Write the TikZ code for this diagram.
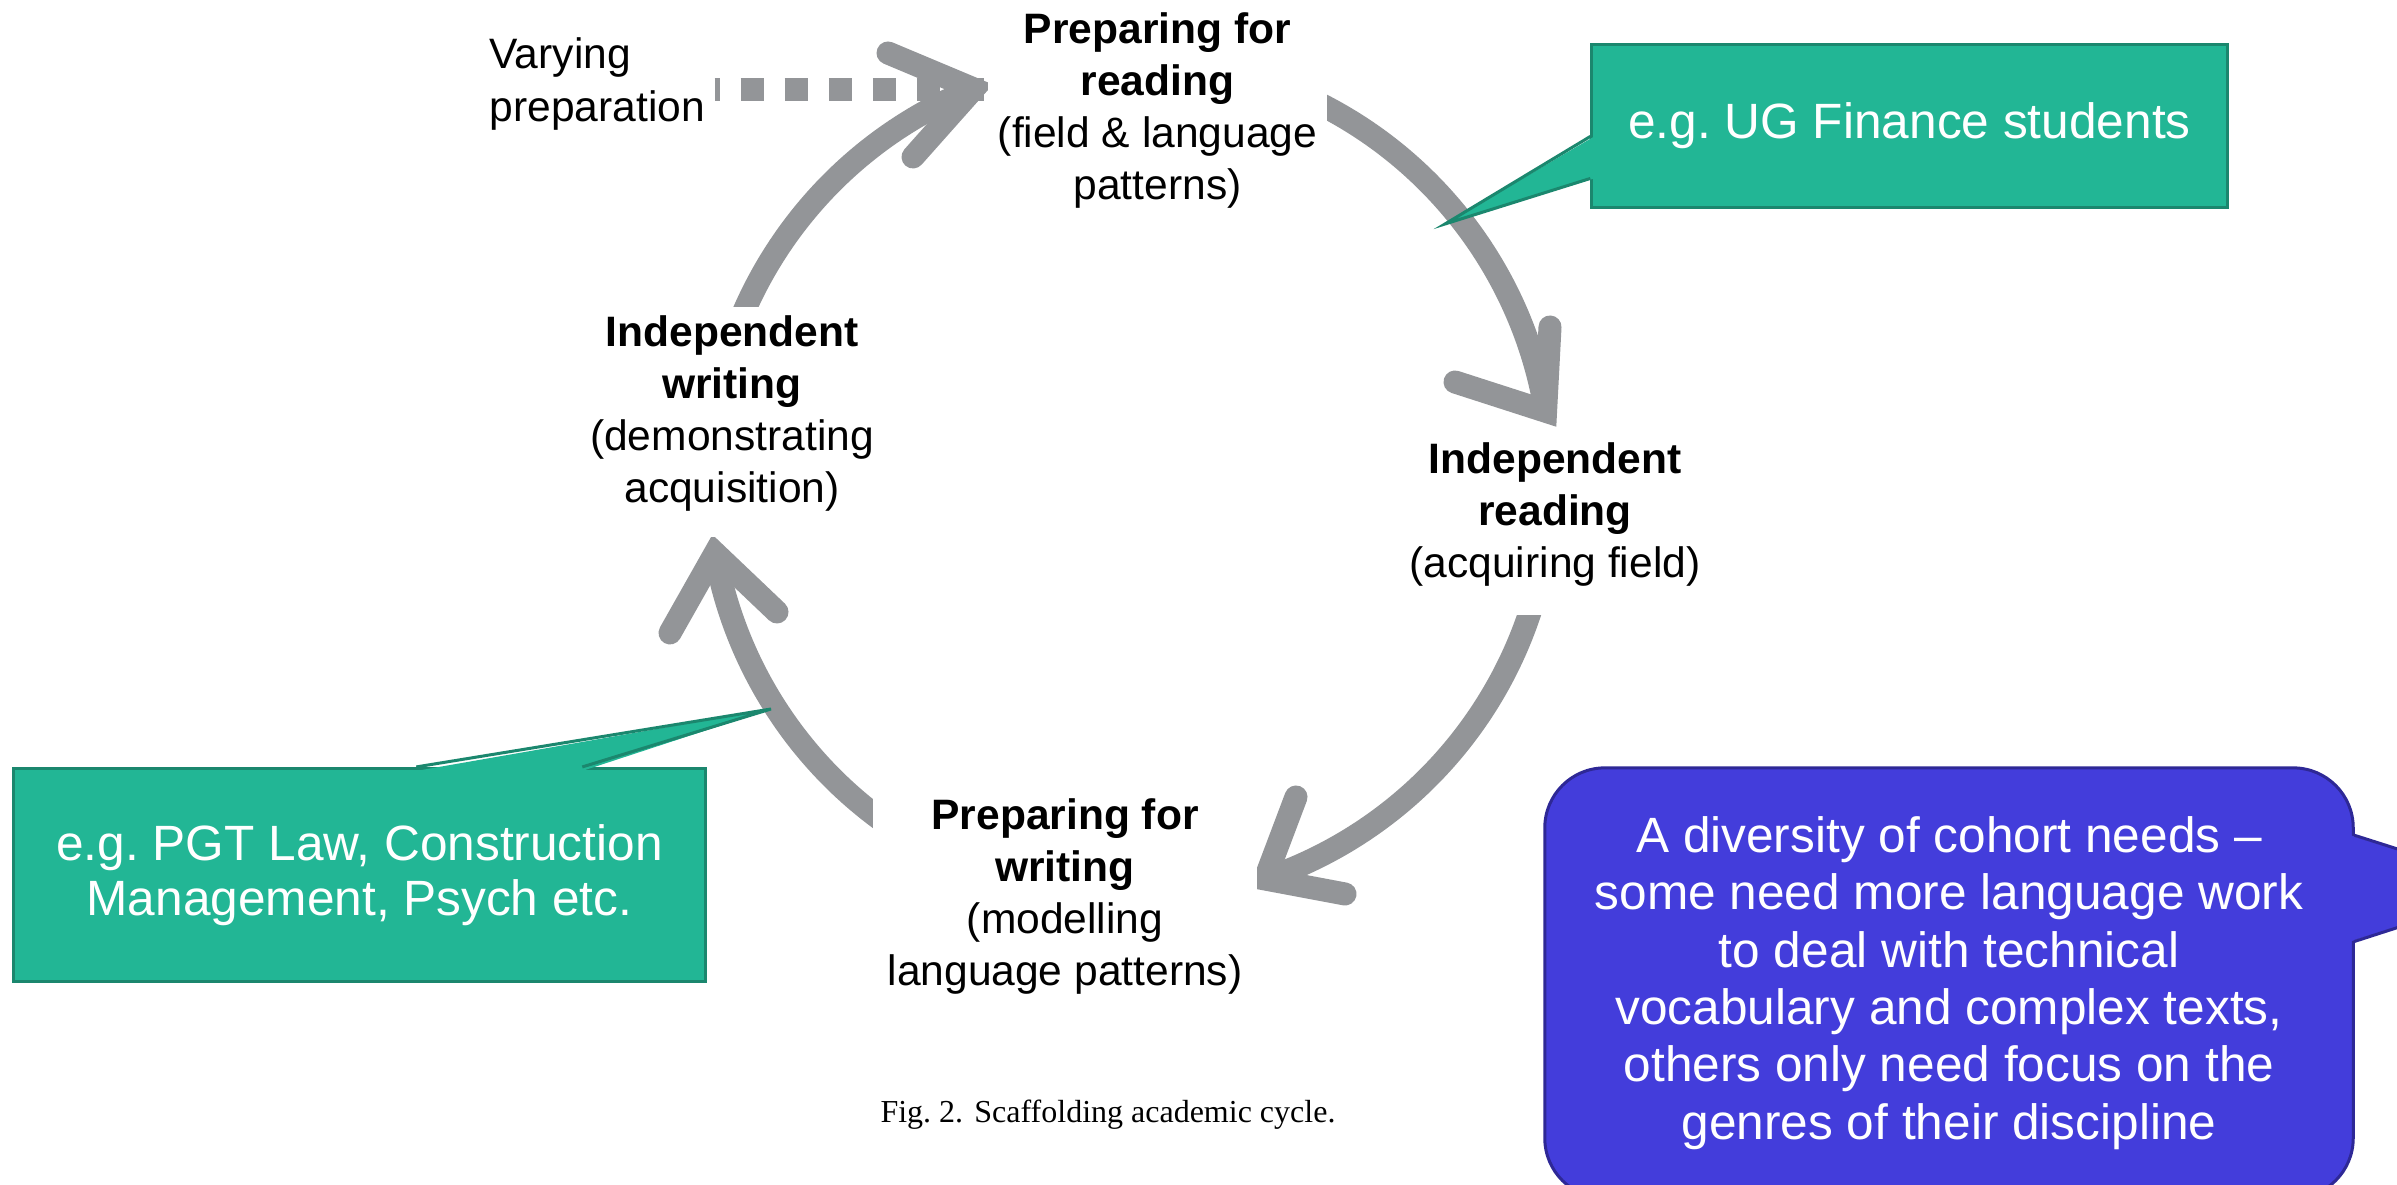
\documentclass[tikz,border=0pt]{standalone}
\usepackage{fontspec}
\setmainfont{Liberation Sans}
\newfontfamily\captionserif{Liberation Serif}
\usetikzlibrary{calc}

\definecolor{arcgray}{RGB}{147,149,152}
\definecolor{tealfill}{RGB}{34,182,149}
\definecolor{tealline}{RGB}{27,135,110}
\definecolor{bluefill}{RGB}{67,61,219}
\definecolor{blueline}{RGB}{46,40,150}

\begin{document}
\frenchspacing
\begin{tikzpicture}[x=0.01cm, y=0.01cm,
  shaft/.style={draw=arcgray, line width=0.23cm, line cap=butt},
  barb/.style={draw=arcgray, line width=0.23cm, line cap=round, line join=miter},
  dashline/.style={draw=arcgray, line width=0.23cm, line cap=butt,
    dash pattern=on 0.23cm off 0.21cm, dash phase=0.18cm},
  stage/.style={fill=white, align=center, anchor=base, inner xsep=0.1cm,
    inner ysep=0.11cm, font=\fontsize{12.1}{14.8}\selectfont},
  tealbox/.style={fill=tealfill, draw=tealline, line width=0.03cm, text=white,
    align=center, inner sep=0pt, font=\fontsize{14.1}{15.6}\selectfont},
  bluebox/.style={fill=bluefill, draw=blueline, line width=0.03cm, text=white,
    align=center, inner sep=0pt, rounded corners=0.6cm,
    font=\fontsize{14.1}{16.3}\selectfont},
]
\useasboundingbox (0,0) rectangle (2397,1185);
\fill[white] (0,0) rectangle (2397,1185);
\clip (0,0) rectangle (2397,1185);

% ---- the cycle: four arcs on one circle, each with a barbed head ----
\coordinate (O) at (1130,705);

\coordinate (sTL) at ($(O)+(160:4.21cm)$);
\draw[shaft] (sTL) arc[start angle=160, end angle=111.8, radius=4.21cm] coordinate (tipTL);
\coordinate (uTL) at (888,1132);
\coordinate (lTL) at (913,1028);
\draw[barb] (uTL) -- (tipTL) -- (lTL);

\coordinate (sTR) at ($(O)+(65:4.21cm)$);
\draw[shaft] (sTR) arc[start angle=65, end angle=9.4, radius=4.21cm] coordinate (tipTR);
\coordinate (rTR) at (1550,858);
\coordinate (lTR) at (1455,803);
\draw[barb] (rTR) -- (tipTR) -- (lTR);

\coordinate (sBR) at ($(O)+(-10:4.21cm)$);
\draw[shaft] (sBR) arc[start angle=-10, end angle=-71.3, radius=4.21cm] coordinate (tipBR);
\coordinate (uBR) at (1296,388);
\coordinate (rBR) at (1345,291);
\draw[barb] (uBR) -- (tipBR) -- (rBR);

\coordinate (sBL) at ($(O)+(240:4.21cm)$);
\draw[shaft] (sBL) arc[start angle=240, end angle=190, radius=4.21cm] coordinate (tipBL);
\coordinate (lBL) at (670,552);
\coordinate (rBL) at (777,573);
\draw[barb] (lBL) -- (tipBL) -- (rBL);

% ---- stage labels (white boxes sit over the arc ends); base = last line ----
\node[stage, minimum width=3.39cm, text height=1.87cm, text depth=0.23cm] (prepread)
  at (1157.5,985)
  {\textbf{Preparing for}\\\textbf{reading}\\(field \& language\\patterns)};
\node[stage, text height=1.35cm, text depth=0.26cm] (indread) at (1555,607)
  {\textbf{Independent}\\\textbf{reading}\\(acquiring field)};
\node[stage, minimum width=3.84cm, text height=1.87cm, text depth=0.23cm] (prepwrite)
  at (1065,199)
  {\textbf{Preparing for}\\\textbf{writing}\\(modelling\\language patterns)};
\node[stage, text height=1.85cm, text depth=0.23cm] (indwrite) at (732,682)
  {\textbf{Independent}\\\textbf{writing}\\(demonstrating\\acquisition)};

% ---- varying preparation feeding in ----
\node[anchor=base west, align=left, inner sep=0pt,
  font=\fontsize{12.1}{15.1}\selectfont] (vary) at (489,1063) {Varying\\preparation};
\coordinate (dashy) at (0,1095);
\path (vary.east) ++(9,0) coordinate (vx);
\draw[dashline] (vx |- dashy) -- (prepread.west |- dashy);

% ---- callouts ----
\node[tealbox, minimum width=6.35cm, minimum height=1.62cm] (ug) at (1909.5,1059)
  {e.g. UG Finance students};
\coordinate (ugtip) at (1445,961);
\fill[tealfill] ($(ug.north west)+(4,-93)$) -- (ugtip) -- ($(ug.north west)+(4,-135)$) -- cycle;
\draw[tealline, line width=0.03cm] ($(ug.north west)+(0,-93)$) -- (ugtip)
  -- ($(ug.north west)+(0,-135)$);

\node[tealbox, minimum width=6.91cm, minimum height=2.13cm] (pgt) at (359.5,310)
  {e.g. PGT Law, Construction\\Management, Psych etc.};
\coordinate (pgttip) at (771,476);
\fill[tealfill] ($(pgt.north west)+(404,-4)$) -- (pgttip) -- ($(pgt.north west)+(570,-4)$) -- cycle;
\draw[tealline, line width=0.03cm] ($(pgt.north west)+(404,0)$) -- (pgttip)
  -- ($(pgt.north west)+(570,0)$);

\node[bluebox, minimum width=8.08cm, minimum height=4.3cm] (div) at (1949,202)
  {A diversity of cohort needs --\\some need more language work\\to deal with technical\\
   vocabulary and complex texts,\\others only need focus on the\\genres of their discipline};
\coordinate (divtip) at (2520,297);
\fill[bluefill] ($(div.north east)+(-4,-69)$) -- (divtip) -- ($(div.north east)+(-4,-175)$) -- cycle;
\draw[blueline, line width=0.03cm] ($(div.north east)+(0,-69)$) -- (divtip)
  -- ($(div.north east)+(0,-175)$);

% ---- caption ----
\node[anchor=base, inner sep=0pt, font=\captionserif\fontsize{9.1}{11}\selectfont] (cap)
  at (1108,62) {Fig.~2.\hskip0.35em Scaffolding academic cycle.};
\end{tikzpicture}
\end{document}
